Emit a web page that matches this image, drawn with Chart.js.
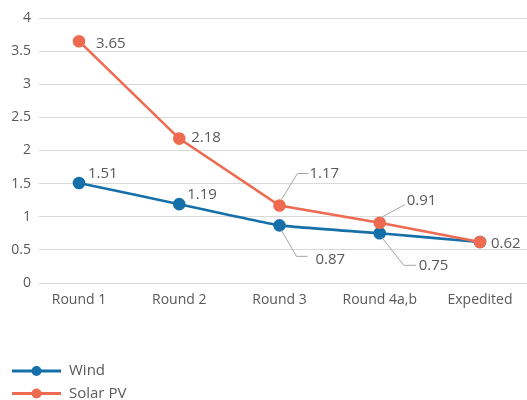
<!DOCTYPE html>
<html>
<head>
<meta charset="utf-8">
<script src="https://cdn.jsdelivr.net/npm/chart.js@4/dist/chart.umd.min.js"></script>
<style>
  html, body { margin: 0; padding: 0; background: #ffffff; }
  #wrap { width: 527px; height: 400px; }
</style>
</head>
<body>
<div id="wrap"><canvas id="c" width="527" height="400"></canvas></div>
<script>
// Auction rounds and the price levels of each technology
const categories = ['Round 1', 'Round 2', 'Round 3', 'Round 4a,b', 'Expedited'];
const windValues = [1.51, 1.19, 0.87, 0.75, 0.62];
const solarValues = [3.65, 2.18, 1.17, 0.91, 0.62];
const yTickValues = [0, 0.5, 1, 1.5, 2, 2.5, 3, 3.5, 4];

const WIND_COLOR = '#156fa8';
const SOLAR_COLOR = '#ee6a50';
const TEXT_COLOR = '#595959';
const FONT = '"Open Sans", sans-serif';

// Let the plot area (and its gridlines) run to the right edge of the canvas
const fullWidthArea = {
  id: 'fullWidthArea',
  afterLayout(chart) {
    const area = chart.chartArea;
    area.right = chart.width;
    area.width = area.right - area.left;
    const xs = chart.scales.x;
    xs.right = chart.width;
    xs.width = xs.right - xs.left;
    xs.configure();
  }
};

// Value labels, some with an elbowed leader line
const valueLabels = {
  id: 'valueLabels',
  afterDatasetsDraw(chart, args, opts) {
    const ctx = chart.ctx;
    ctx.save();
    ctx.font = '15px ' + FONT;
    ctx.fillStyle = TEXT_COLOR;
    ctx.textAlign = 'left';
    ctx.textBaseline = 'middle';
    chart.data.datasets.forEach((ds, di) => {
      const meta = chart.getDatasetMeta(di);
      const place = opts.placement[di];
      meta.data.forEach((pt, i) => {
        const p = place[i];
        if (!p) return;
        if (p.leader) {
          ctx.beginPath();
          ctx.strokeStyle = '#a6a6a6';
          ctx.lineWidth = 1;
          p.leader.forEach(([lx, ly], k) => {
            const px = pt.x + lx, py = pt.y + ly;
            if (k === 0) ctx.moveTo(px, py); else ctx.lineTo(px, py);
          });
          ctx.stroke();
        }
        ctx.fillText(ds.data[i].y.toFixed(2), pt.x + p.dx, pt.y + p.dy);
      });
    });
    ctx.restore();
  }
};

// Stacked legend in the lower-left corner: line with a marker, then the name
const stackedLegend = {
  id: 'stackedLegend',
  afterDraw(chart, args, opts) {
    const ctx = chart.ctx;
    ctx.save();
    ctx.font = '15px ' + FONT;
    ctx.textAlign = 'left';
    ctx.textBaseline = 'middle';
    chart.data.datasets.forEach((ds, i) => {
      const y = opts.top + i * opts.rowHeight;
      ctx.strokeStyle = ds.borderColor;
      ctx.lineWidth = 3;
      ctx.beginPath();
      ctx.moveTo(opts.left, y);
      ctx.lineTo(opts.left + opts.lineLength, y);
      ctx.stroke();
      ctx.fillStyle = ds.backgroundColor;
      ctx.beginPath();
      ctx.arc(opts.left + opts.lineLength / 2, y, 5, 0, Math.PI * 2);
      ctx.fill();
      ctx.fillStyle = TEXT_COLOR;
      ctx.fillText(ds.label, opts.left + opts.lineLength + 8, y);
    });
    ctx.restore();
  }
};

new Chart(document.getElementById('c'), {
  type: 'line',
  data: {
    datasets: [
      {
        label: 'Wind',
        data: windValues.map((v, i) => ({ x: i, y: v })),
        borderColor: WIND_COLOR,
        backgroundColor: WIND_COLOR,
        pointBackgroundColor: WIND_COLOR,
        pointBorderColor: WIND_COLOR,
        borderWidth: 2.6,
        pointRadius: 5,
        tension: 0.1,
        order: 1
      },
      {
        label: 'Solar PV',
        data: solarValues.map((v, i) => ({ x: i, y: v })),
        borderColor: SOLAR_COLOR,
        backgroundColor: SOLAR_COLOR,
        pointBackgroundColor: SOLAR_COLOR,
        pointBorderColor: SOLAR_COLOR,
        borderWidth: 2.6,
        pointRadius: 5,
        tension: 0,
        order: 0
      }
    ]
  },
  options: {
    responsive: false,
    animation: false,
    events: [],
    layout: { padding: { top: 18, right: 0, bottom: 87, left: 0 } },
    scales: {
      x: {
        type: 'linear',
        min: -0.399,
        max: 4.469,
        afterBuildTicks: (scale) => { scale.ticks = categories.map((c, i) => ({ value: i })); },
        afterFit: (scale) => {
          scale.height = 30;
          scale.paddingLeft = 0;
          scale.paddingRight = 0;
        },
        grid: { display: false, drawTicks: false },
        border: { display: false },
        ticks: {
          autoSkip: false,
          maxRotation: 0,
          padding: 9,
          color: TEXT_COLOR,
          font: { family: FONT, size: 14 },
          callback: (v) => categories[v]
        }
      },
      y: {
        min: 0,
        max: 4,
        afterBuildTicks: (scale) => { scale.ticks = yTickValues.map(v => ({ value: v })); },
        afterFit: (scale) => { scale.width = 39; },
        grid: { color: '#d9d9d9', lineWidth: 1, drawTicks: false },
        border: { display: false },
        ticks: {
          padding: 8,
          color: TEXT_COLOR,
          font: { family: FONT, size: 14 },
          callback: (v) => String(v)
        }
      }
    },
    plugins: {
      legend: { display: false },
      tooltip: { enabled: false },
      valueLabels: {
        placement: [
          [
            { dx: 9, dy: -9 },
            { dx: 8, dy: -9 },
            { dx: 36, dy: 34, leader: [[2, 5], [17, 31], [28, 31]] },
            { dx: 39, dy: 32, leader: [[2, 4], [24, 32], [36, 32]] },
            null
          ],
          [
            { dx: 17, dy: 3 },
            { dx: 12, dy: -1 },
            { dx: 30, dy: -32, leader: [[2, -6], [18, -32], [29, -32]] },
            { dx: 27, dy: -22, leader: [[1, -5], [25, -18]] },
            { dx: 11, dy: 2 }
          ]
        ]
      },
      stackedLegend: { left: 12, top: 371, rowHeight: 22.5, lineLength: 49 }
    }
  },
  plugins: [fullWidthArea, valueLabels, stackedLegend]
});
</script>
</body>
</html>
